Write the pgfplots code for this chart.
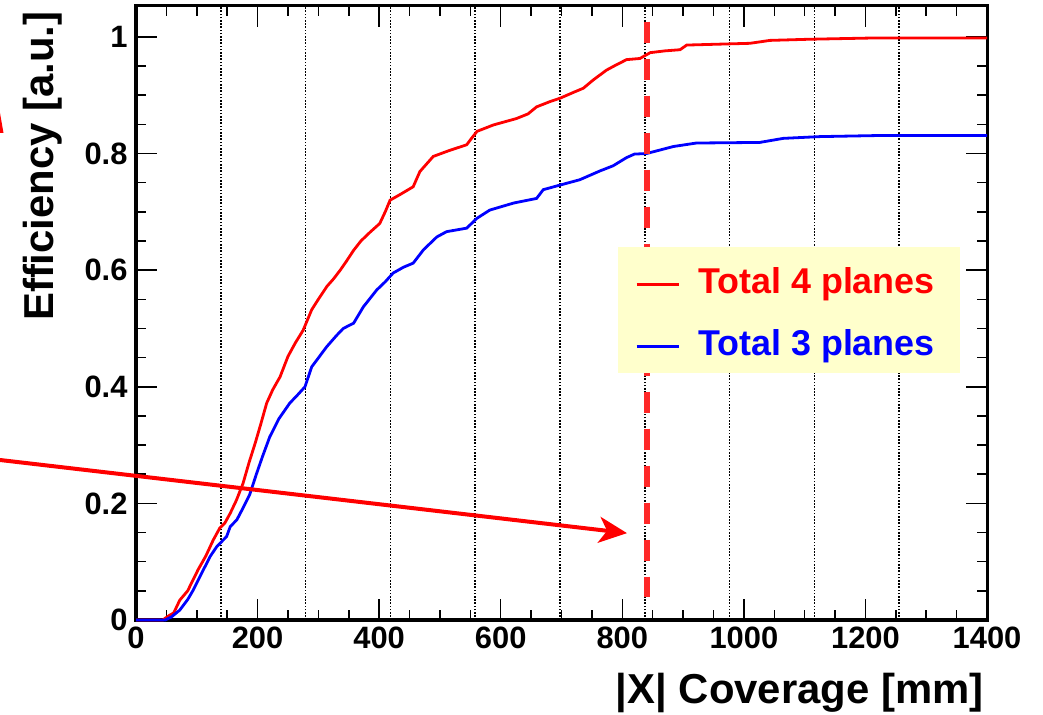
\documentclass[border=0pt]{standalone}
\usepackage{fontspec}
\setmainfont{Liberation Sans}
\usepackage{pgfplots}
\pgfplotsset{compat=1.18}
\usetikzlibrary{arrows.meta}
\definecolor{dashred}{RGB}{255,40,40}
\definecolor{legbg}{RGB}{255,255,204}
\begin{document}
\begin{tikzpicture}
\useasboundingbox (0,0) rectangle (1043bp,715bp);
\begin{axis}[
  at={(136bp,95bp)}, anchor=south west,
  scale only axis, width=851bp, height=614bp,
  xmin=0, xmax=1400, ymin=0, ymax=1.053,
  clip=false,
  axis line style={line width=3bp},
  tick align=inside,
  major tick length=21bp, minor tick length=10bp,
  every tick/.style={black, line width=1.5bp},
  xtick={0,200,400,600,800,1000,1200,1400},
  ytick={0,0.2,0.4,0.6,0.8,1},
  minor x tick num=3, minor y tick num=3,
  /pgf/number format/assume math mode=true,
  /pgf/number format/1000 sep={},
  tick label style={font=\fontsize{31}{31}\selectfont\bfseries},
  xticklabel style={yshift=-3bp},
  yticklabel style={xshift=-5bp},
  extra x ticks={139.5,279,418.5,558,697.5,837,976.5,1116,1255.5},
  extra x tick labels={},
  extra x tick style={grid=major, major tick length=0pt},
  major grid style={black, line width=1.6bp, dash pattern=on 1.6bp off 1.6bp},
  xlabel={|X| Coverage [mm]},
  ylabel={Efficiency [a.u.]},
  label style={font=\fontsize{42}{42}\selectfont\bfseries},
  xlabel style={at={(rel axis cs:1,-0.1352)}, anchor=base east},
  ylabel style={at={(rel axis cs:-0.0975,0.9967)}, anchor=base east},
  legend style={at={(rel axis cs:0.5664,0.6075)}, anchor=north west, draw=none, fill=legbg,
    inner xsep=17bp, inner ysep=15bp, font=\fontsize{36}{36}\selectfont\bfseries,
    row sep=28bp, column sep=18bp,
    nodes={inner sep=0bp, text height=31bp, text depth=3bp}},
  legend cell align=left,
  legend image code/.code={\draw[#1, line width=3bp] (0bp,-5bp) -- (42bp,-5bp);},
]
\addplot[red, line width=2.8bp] coordinates {
(0,0) (44,0) (55,0.008) (62,0.012) (72,0.034) (85,0.05) (102,0.086) (115,0.11) (127,0.137)
(138,0.158) (146,0.166) (155,0.183) (165,0.205) (176,0.234) (186,0.27) (196,0.303) (205,0.335)
(215,0.372) (225,0.395) (237,0.417) (250,0.452) (262,0.475) (275,0.497) (289,0.532) (300,0.55)
(314,0.572) (325,0.585) (336,0.600) (346,0.615) (358,0.634) (370,0.65) (385,0.665) (401,0.68)
(410,0.70) (418,0.72) (435,0.73) (456,0.743) (467,0.769) (478,0.782) (489,0.795) (515,0.805)
(544,0.815) (552,0.826) (561,0.838) (588,0.849) (626,0.860) (645,0.868) (659,0.880) (681,0.889)
(698,0.895) (720,0.905) (736,0.912) (752,0.926) (774,0.943) (790,0.952) (807,0.961) (829,0.963)
(846,0.973) (870,0.976) (895,0.978) (906,0.986) (1010,0.989) (1043,0.994) (1109,0.996)
(1207,0.998) (1400,0.998)};
\addlegendentry{\textcolor{red}{Total 4 planes}\hspace*{8bp}}
\addplot[blue, line width=2.8bp] coordinates {
(0,0) (48,0) (58,0.005) (72,0.017) (85,0.035) (94,0.051) (105,0.074) (122,0.109) (133,0.126)
(149,0.143) (155,0.16) (166,0.172) (177,0.194) (187,0.215) (198,0.25) (208,0.28) (220,0.314)
(235,0.345) (253,0.372) (265,0.385) (278,0.40) (289,0.434) (314,0.469) (330,0.488) (341,0.50)
(358,0.509) (374,0.537) (396,0.566) (410,0.58) (423,0.595) (440,0.605) (456,0.612) (473,0.635)
(495,0.657) (511,0.666) (544,0.672) (561,0.689) (582,0.703) (621,0.715) (659,0.723) (670,0.738)
(698,0.746) (730,0.755) (763,0.770) (785,0.779) (807,0.793) (820,0.799) (840,0.800) (862,0.806)
(884,0.812) (922,0.818) (1026,0.819) (1065,0.826) (1125,0.829) (1229,0.831) (1400,0.831)};
\addlegendentry{\textcolor{blue}{Total 3 planes}\hspace*{8bp}}
\addplot[dashred, line width=6bp, dash pattern=on 21bp off 16bp, forget plot]
  coordinates {(840,1.026) (840,0.039)};
\draw[red, line width=4bp, -{Stealth[length=28bp, width=26bp, inset=8bp]}]
  (axis cs:-223.7,0.2744) -- (axis cs:807.7,0.149);
\end{axis}
\fill[red] (0bp,602bp) -- (3.5bp,582bp) -- (0bp,582bp) -- cycle;
\end{tikzpicture}
\end{document}
